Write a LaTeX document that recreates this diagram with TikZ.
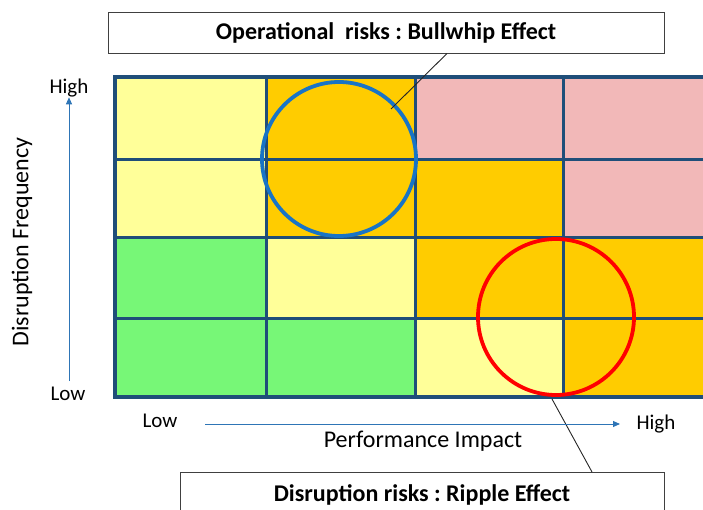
\documentclass[tikz,border=0pt]{standalone}
\usepackage{fontspec}
\setmainfont{Carlito}
\frenchspacing
\usetikzlibrary{arrows.meta,positioning}

\definecolor{lowrisk}{HTML}{77F777}
\definecolor{midrisk}{HTML}{FFFF99}
\definecolor{hirisk}{HTML}{FFCC00}
\definecolor{toprisk}{HTML}{F2B8B8}
\definecolor{gridblue}{HTML}{1F4E79}
\definecolor{axisblue}{HTML}{2E75B6}
\definecolor{ringblue}{HTML}{1874C6}

\tikzset{
  callout/.style={draw=black!75, fill=white, line width=0.9pt, inner sep=0pt,
    font=\fontsize{24}{28}\selectfont\bfseries},
  axislabel/.style={inner sep=0pt, font=\fontsize{21}{25}\selectfont},
  axistitle/.style={inner sep=0pt, font=\fontsize{24}{28}\selectfont},
  axisarrow/.style={axisblue, line width=0.9pt, -{Triangle[length=7pt,width=6pt]}},
  ring/.style={circle, draw, line width=3.8pt, minimum size=154pt, inner sep=0pt},
  leader/.style={black!85, line width=0.9pt},
}

\begin{document}
\begin{tikzpicture}[x=1pt, y=-1pt]
	\useasboundingbox (0,0) rectangle (703,510);
	\clip (0,0) rectangle (703,510);
	
	%%%%% RISK GRID %%%%%
	\foreach \c [count=\i from 0] in {midrisk,hirisk,toprisk,toprisk,
	                                  midrisk,hirisk,hirisk,toprisk,
	                                  lowrisk,midrisk,hirisk,hirisk,
	                                  lowrisk,lowrisk,midrisk,hirisk} {
		\pgfmathtruncatemacro{\r}{\i/4}
		\pgfmathtruncatemacro{\k}{mod(\i,4)}
		\pgfmathsetmacro{\xa}{{113,266,415,563}[\k]}
		\pgfmathsetmacro{\xb}{{266,415,563,712}[\k]}
		\pgfmathsetmacro{\ya}{{77,160,238,318}[\r]}
		\pgfmathsetmacro{\yb}{{160,238,318,398}[\r]}
		\draw[fill=\c, draw=white, line width=2pt] (\xa,\ya) rectangle (\xb,\yb);
	}
	
	\foreach \x in {266,415,563}
		\draw[gridblue, line width=3pt] (\x,77) -- (\x,398);
	\foreach \y in {160,238,318}
		\draw[gridblue, line width=3pt] (113,\y) -- (712,\y);
	\draw[gridblue, line width=4pt] (712,77) -- (115,77) -- (115,397) -- (712,397);
	
	%%%%% RISK AREAS %%%%%
	\node[ring, draw=ringblue] (bullwhip) at (339,159) {};
	\node[ring, draw=red, minimum size=156pt] (ripple) at (556,317) {};
	
	%%%%% CALLOUTS %%%%%
	\node[callout, minimum width=556pt, minimum height=41pt] (opbox) at (386,32.5)
		{Operational\ \ risks : Bullwhip Effect};
	\node[callout, minimum width=484pt, minimum height=50pt, anchor=north] (disbox) at (422,472) {};
	\node[inner sep=0pt, font=\fontsize{24}{28}\selectfont\bfseries] (distext) at (422,495)
		{Disruption risks : Ripple Effect};
	
	\coordinate (optip) at (391,109);
	\coordinate (ripfoot) at (552,399);
	\draw[leader] (opbox.south -| 447,0) -- (optip);
	\draw[leader] (ripfoot) -- (disbox.north -| 592,0);
	
	%%%%% AXES %%%%%
	\node[axislabel] (fhigh) at (69,88) {High};
	\node[axislabel] (flow) at (68,394) {Low};
	\coordinate (fstart) at (69,381);
	\draw[axisarrow] (fstart) -- (fhigh.south);
	\node[axistitle, rotate=90] (ftitle) at (22,242) {Disruption Frequency};
	
	\node[axislabel] (plow) at (160,421) {Low};
	\node[axislabel] (phigh) at (656,424) {High};
	\coordinate (pstart) at (205,424);
	\coordinate (pend) at (620,424);
	\draw[axisarrow] (pstart) -- (pend);
	\node[axistitle] (ptitle) at (423,441) {Performance Impact};
\end{tikzpicture}
\end{document}
